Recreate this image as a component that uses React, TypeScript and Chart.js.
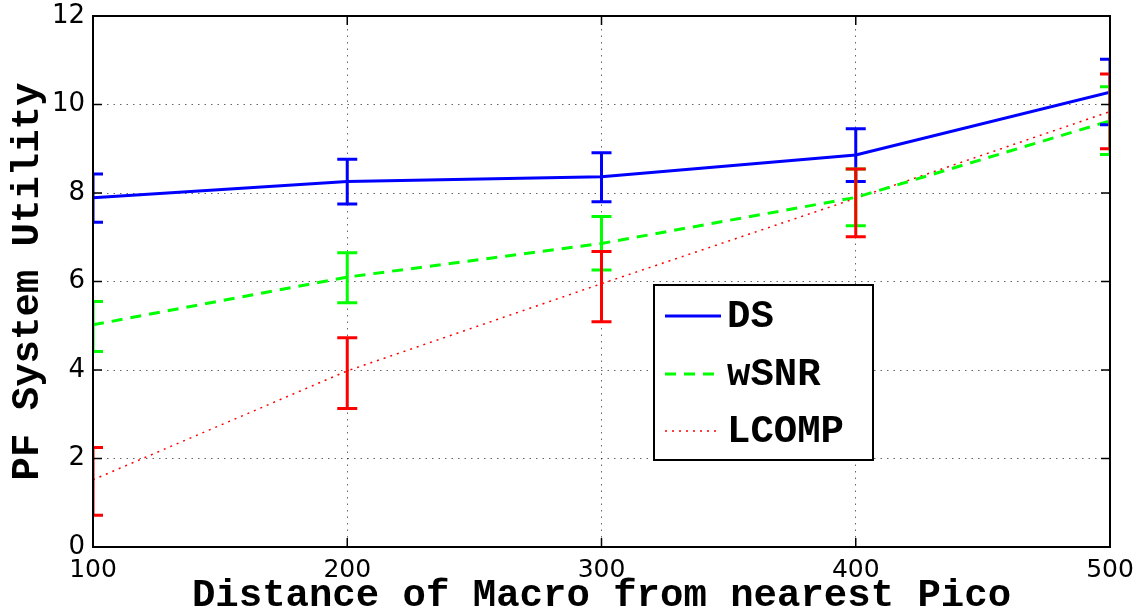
import { useEffect, useRef } from "react";
import { Chart, registerables } from "chart.js";

Chart.register(...registerables);

// ---- data ----
const distances = [100, 200, 300, 400, 500];
const seriesLabels = ["DS", "wSNR", "LCOMP"];

const dsMean = [7.89, 8.26, 8.37, 8.86, 10.28];
const dsLow = [7.34, 7.75, 7.8, 8.26, 9.54];
const dsHigh = [8.43, 8.76, 8.91, 9.45, 11.02];

const wsnrMean = [5.02, 6.1, 6.86, 7.9, 9.63];
const wsnrLow = [4.42, 5.52, 6.26, 7.26, 8.87];
const wsnrHigh = [5.55, 6.65, 7.47, 8.54, 10.4];

const lcompMean = [1.52, 3.98, 5.95, 7.88, 9.84];
const lcompLow = [0.72, 3.13, 5.09, 7.01, 9.0];
const lcompHigh = [2.25, 4.73, 6.68, 8.54, 10.69];

const xTickValues = [100, 200, 300, 400, 500];
const yTickValues = [0, 2, 4, 6, 8, 10, 12];

const xTitle = "Distance of Macro from nearest Pico";
const yTitle = "PF System Utility";

const MONO = "'Liberation Mono', 'Courier New', monospace";
const SANS = "'DejaVu Sans', sans-serif";

const toPoints = (vals: number[]) => distances.map((x, i) => ({ x, y: vals[i] }));

const matlabPlugin = {
  id: "matlabDecor",
  afterDatasetsDraw(chart: any) {
    const { ctx, chartArea: a, scales } = chart;
    const xs = scales.x;
    const ys = scales.y;

    // error bars
    ctx.save();
    ctx.beginPath();
    ctx.rect(a.left, a.top, a.right - a.left, a.bottom - a.top);
    ctx.clip();
    chart.data.datasets.forEach((ds: any) => {
      ctx.strokeStyle = ds.borderColor;
      ctx.lineWidth = 3;
      ctx.setLineDash([]);
      ds.data.forEach((p: any, i: number) => {
        const px = xs.getPixelForValue(p.x);
        const pl = ys.getPixelForValue(ds.errLow[i]);
        const ph = ys.getPixelForValue(ds.errHigh[i]);
        ctx.beginPath();
        ctx.moveTo(px, pl);
        ctx.lineTo(px, ph);
        ctx.moveTo(px - 10, pl);
        ctx.lineTo(px + 10, pl);
        ctx.moveTo(px - 10, ph);
        ctx.lineTo(px + 10, ph);
        ctx.stroke();
      });
    });
    ctx.restore();

    // inward ticks
    ctx.save();
    ctx.strokeStyle = "#000";
    ctx.lineWidth = 1.5;
    ctx.setLineDash([]);
    ctx.beginPath();
    yTickValues.forEach((v) => {
      const py = ys.getPixelForValue(v);
      ctx.moveTo(a.left, py);
      ctx.lineTo(a.left + 9, py);
      ctx.moveTo(a.right, py);
      ctx.lineTo(a.right - 9, py);
    });
    xTickValues.forEach((v) => {
      const px = xs.getPixelForValue(v);
      ctx.moveTo(px, a.bottom);
      ctx.lineTo(px, a.bottom - 9);
      ctx.moveTo(px, a.top);
      ctx.lineTo(px, a.top + 9);
    });
    ctx.stroke();

    // frame
    ctx.lineWidth = 2;
    ctx.strokeRect(a.left, a.top, a.right - a.left, a.bottom - a.top);
    ctx.restore();

    // legend
    ctx.save();
    const bx = 654, by = 285, bw = 219, bh = 175;
    ctx.fillStyle = "#fff";
    ctx.fillRect(bx, by, bw, bh);
    ctx.strokeStyle = "#000";
    ctx.lineWidth = 2;
    ctx.setLineDash([]);
    ctx.strokeRect(bx, by, bw, bh);
    const rowY = [316, 374, 431];
    chart.data.datasets.forEach((ds: any, i: number) => {
      const yy = rowY[i];
      ctx.strokeStyle = ds.borderColor;
      ctx.lineWidth = ds.borderWidth;
      ctx.setLineDash(ds.borderDash || []);
      ctx.beginPath();
      ctx.moveTo(665, yy);
      ctx.lineTo(721, yy);
      ctx.stroke();
      ctx.setLineDash([]);
      ctx.fillStyle = "#000";
      ctx.font = `bold 39px ${MONO}`;
      ctx.textBaseline = "middle";
      ctx.textAlign = "left";
      ctx.fillText(ds.label, 727, yy + 1);
    });
    ctx.restore();
  },
};

export default function App() {
  const canvasRef = useRef<HTMLCanvasElement | null>(null);

  useEffect(() => {
    const canvas = canvasRef.current;
    if (!canvas) return;
    const chart = new Chart(canvas, {
      type: "line",
      data: {
        datasets: [
          {
            label: seriesLabels[0],
            data: toPoints(dsMean),
            borderColor: "#0000ff",
            borderWidth: 3,
            pointRadius: 0,
            tension: 0,
            errLow: dsLow,
            errHigh: dsHigh,
          } as any,
          {
            label: seriesLabels[1],
            data: toPoints(wsnrMean),
            borderColor: "#00ff00",
            borderWidth: 3,
            borderDash: [11, 8],
            pointRadius: 0,
            tension: 0,
            errLow: wsnrLow,
            errHigh: wsnrHigh,
          } as any,
          {
            label: seriesLabels[2],
            data: toPoints(lcompMean),
            borderColor: "#ff0000",
            borderWidth: 1.5,
            borderDash: [2, 5],
            pointRadius: 0,
            tension: 0,
            errLow: lcompLow,
            errHigh: lcompHigh,
          } as any,
        ],
      },
      options: {
        animation: false,
        responsive: false,
        devicePixelRatio: 1,
        layout: { padding: { top: 16, right: 35, left: 0, bottom: 0 } },
        plugins: { legend: { display: false }, tooltip: { enabled: false } },
        scales: {
          x: {
            type: "linear",
            min: 100,
            max: 500,
            afterFit: (s: any) => {
              s.height = 62;
              s.paddingLeft = 0;
              s.paddingRight = 0;
            },
            afterBuildTicks: (s: any) => {
              s.ticks = xTickValues.map((v) => ({ value: v }));
            },
            ticks: {
              color: "#000",
              font: { family: SANS, size: 25 },
              padding: 8,
              maxRotation: 0,
            },
            grid: { color: "rgba(0,0,0,0.6)", lineWidth: 1, drawTicks: false },
            border: { display: true, color: "#000", width: 2, dash: [1.5, 5] },
            title: {
              display: true,
              text: xTitle,
              color: "#000",
              font: { family: MONO, size: 39, weight: "bold", lineHeight: 0.65 },
              padding: 0,
            },
          },
          y: {
            type: "linear",
            min: 0,
            max: 12,
            afterFit: (s: any) => {
              s.width = 93;
              s.paddingTop = 0;
              s.paddingBottom = 0;
            },
            afterBuildTicks: (s: any) => {
              s.ticks = yTickValues.map((v) => ({ value: v }));
            },
            ticks: {
              color: "#000",
              font: { family: SANS, size: 26 },
              padding: 8,
            },
            grid: { color: "rgba(0,0,0,0.6)", lineWidth: 1, drawTicks: false },
            border: { display: true, color: "#000", width: 2, dash: [1.5, 5] },
            title: {
              display: true,
              text: yTitle,
              color: "#000",
              font: { family: MONO, size: 39, weight: "bold", lineHeight: 1.2 },
              padding: { top: 5, bottom: 0 },
            },
          },
        },
      } as any,
      plugins: [matlabPlugin],
    });
    return () => chart.destroy();
  }, []);

  return (
    <div style={{ position: "absolute", left: 0, top: 0, width: 1145, height: 609, background: "#fff" }}>
      <canvas ref={canvasRef} width={1145} height={609} style={{ display: "block" }} />
    </div>
  );
}
